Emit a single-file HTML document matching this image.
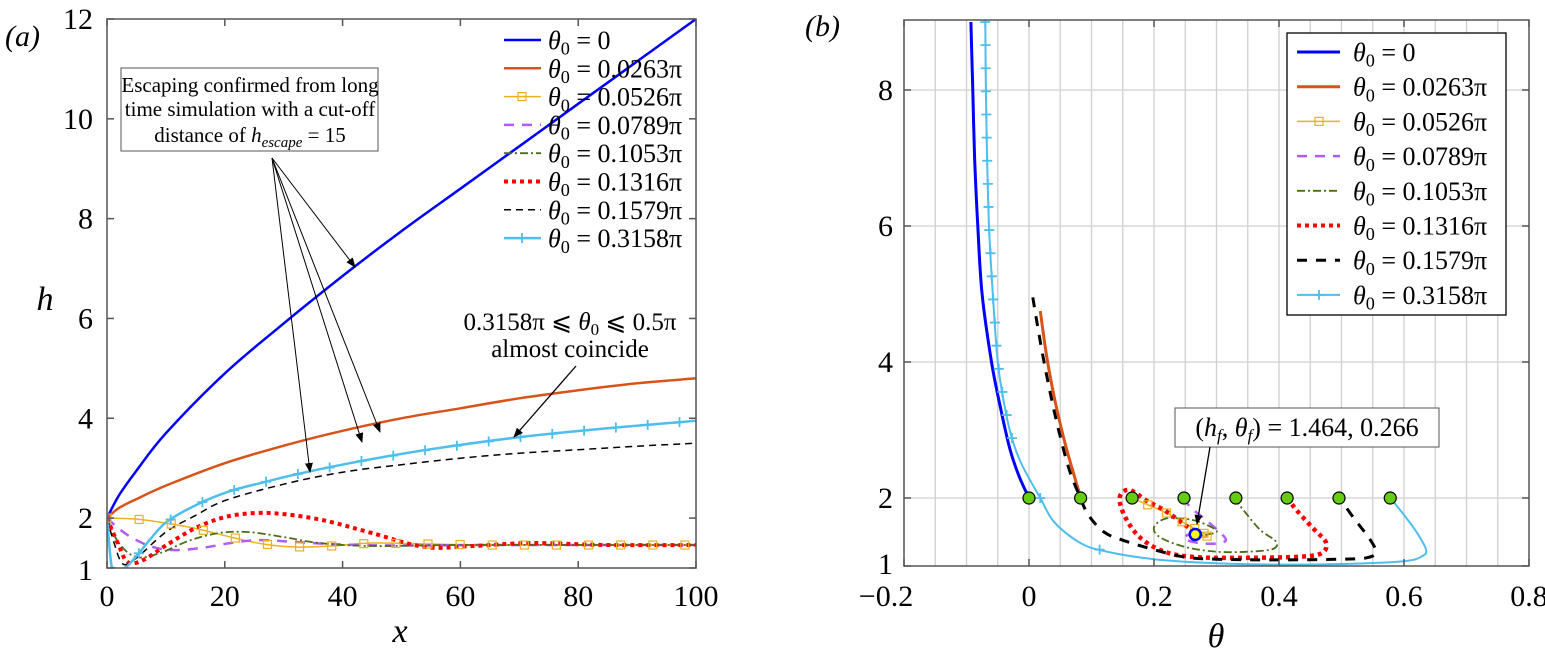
<!DOCTYPE html>
<html><head><meta charset="utf-8"><style>
html,body{margin:0;padding:0;background:#fff;}
svg, svg text, svg tspan{font-family:"Liberation Serif","DejaVu Serif",serif;}
</style></head><body>
<svg id="fig" width="1545" height="665" viewBox="0 0 1545 665" xmlns="http://www.w3.org/2000/svg" font-family="Liberation Serif, serif">
<defs>
<clipPath id="clipA"><rect x="107" y="19" width="589" height="549"/></clipPath>
<clipPath id="clipB"><rect x="904" y="20" width="625" height="546"/></clipPath>
<marker id="arr" markerWidth="10" markerHeight="10" refX="9" refY="5" orient="auto" markerUnits="userSpaceOnUse"><path d="M0,1 L10,5 L0,9 z" fill="#000"/></marker>
</defs>
<g id="panelA"></g>
<g id="panelB"></g>
</svg>
<script>
// ---------- Panel (a) data: x vs h ----------
const aBlueX = [0,2,5,10,20,30,40,50,60,70,80,90,100];
const aBlueH = [2,2.45,2.95,3.7,4.9,5.9,6.85,7.75,8.6,9.45,10.3,11.15,12.0];
const aOrangeX = [0,2,5,10,20,30,40,50,60,70,80,90,100];
const aOrangeH = [2,2.2,2.38,2.65,3.1,3.45,3.75,4.0,4.2,4.4,4.56,4.7,4.8];
const aYellowX = [0,5,10,15.5,21,26.5,32,38,45,55,65,80,100];
const aYellowH = [2,1.98,1.9,1.78,1.62,1.48,1.42,1.44,1.5,1.48,1.46,1.46,1.46];
const aPurpleX = [0,3,7,11,16,21,26,32,40,50,65,100];
const aPurpleH = [2,1.7,1.45,1.36,1.4,1.5,1.56,1.52,1.47,1.45,1.46,1.46];
const aGreenX = [0,2,5,9,14,19,24,30,36,45,60,100];
const aGreenH = [2,1.5,1.22,1.3,1.55,1.7,1.72,1.62,1.5,1.44,1.46,1.46];
const aRedX = [0,2,3.5,6,10,15,20,25,30,37,45,54,62,72,85,100];
const aRedH = [2,1.45,1.12,1.15,1.45,1.8,2.02,2.1,2.08,1.95,1.7,1.42,1.44,1.5,1.46,1.46];
const aBlackX = [0,1.2,2.7,5,10,15,20,30,40,50,60,70,80,90,100];
const aBlackH = [2,1.5,1.08,1.2,1.72,2.05,2.35,2.68,2.92,3.07,3.2,3.3,3.37,3.44,3.5];
const aCyanX = [0,0.7,1.2,3,5.3,7.5,10.3,15.8,20.9,26,33,43,55,70,85,100];
const aCyanH = [2,1.1,1.0,1.0,1.28,1.6,1.94,2.3,2.54,2.7,2.9,3.14,3.38,3.62,3.8,3.95];
const aXTicks = [0,20,40,60,80,100];
const aYTicks = [1,2,4,6,8,10,12];

// ---------- Panel (b) data: theta vs h ----------
const bBlueT = [0,-0.015,-0.03,-0.045,-0.06,-0.075,-0.082,-0.087,-0.09,-0.093];
const bBlueH = [2,2.3,2.7,3.3,4,5,6,7,8,9];
const bOrangeT = [0.083,0.07,0.055,0.04,0.028,0.018];
const bOrangeH = [2,2.4,2.9,3.5,4.1,4.75];
const bYellowT = [0.165,0.19,0.22,0.245,0.265,0.28,0.285,0.27,0.266];
const bYellowH = [2,1.9,1.78,1.65,1.55,1.48,1.44,1.45,1.464];
const bPurpleT = [0.246,0.26,0.28,0.305,0.315,0.3,0.27,0.248,0.255,0.266];
const bPurpleH = [2,1.85,1.7,1.5,1.38,1.33,1.34,1.4,1.46,1.464];
const bGreenT = [0.328,0.345,0.37,0.395,0.39,0.35,0.3,0.25,0.21,0.2,0.22,0.26,0.29,0.3,0.275,0.266];
const bGreenH = [2,1.8,1.53,1.36,1.25,1.21,1.21,1.28,1.42,1.57,1.7,1.68,1.58,1.5,1.45,1.464];
const bRedT = [0.413,0.43,0.455,0.475,0.47,0.44,0.35,0.27,0.22,0.18,0.155,0.145,0.16,0.19,0.22,0.25,0.27,0.266];
const bRedH = [2,1.8,1.55,1.35,1.2,1.14,1.12,1.13,1.2,1.4,1.7,2.0,2.12,1.95,1.8,1.6,1.47,1.464];
const bBlackT = [0.006,0.02,0.035,0.05,0.065,0.08,0.095,0.12,0.15,0.2,0.25,0.3,0.4,0.5,0.54,0.555,0.545,0.52,0.497];
const bBlackH = [4.95,4.2,3.5,2.9,2.4,2.05,1.75,1.5,1.38,1.24,1.13,1.1,1.09,1.1,1.12,1.2,1.4,1.7,2];
const bCyanT = [-0.07,-0.069,-0.067,-0.064,-0.058,-0.05,-0.04,-0.028,-0.012,0.018,0.04,0.08,0.12,0.2,0.3,0.4,0.5,0.6,0.63,0.635,0.62,0.6,0.578];
const bCyanH = [9,8,7,6,5,4,3.4,2.9,2.5,2,1.65,1.35,1.22,1.1,1.04,1.02,1.03,1.07,1.15,1.25,1.5,1.75,2];
const bStartT = [0,0.0826,0.165,0.248,0.331,0.413,0.496,0.578];
const bStartH = [2,2,2,2,2,2,2,2];
const bFinalT = [0.266];
const bFinalH = [1.464];
const bXTicks = [-0.2,0,0.2,0.4,0.6,0.8];
const bXTickLabels = ["\u22120.2","0","0.2","0.4","0.6","0.8"];
const bYTicks = [1,2,4,6,8];
const legendLabels = ["0","0.0263\u03c0","0.0526\u03c0","0.0789\u03c0","0.1053\u03c0","0.1316\u03c0","0.1579\u03c0","0.3158\u03c0"];

const NS = "http://www.w3.org/2000/svg";
function mk(tag, attrs, parent){ const e=document.createElementNS(NS,tag); for(const k in attrs) e.setAttribute(k,attrs[k]); if(tag==='text') e.setAttribute('font-family','Liberation Serif, serif'); if(parent) parent.appendChild(e); return e; }

const aX = v => 107 + v*(696-107)/100;
const aY = v => 568 - (v-1)*(568-19)/11;
const bX = v => 904 + (v+0.2)*(1529-904)/1.0;
const bY = v => 566 - (v-1)*68;

function smoothPath(xs, ys, fx, fy){
  const p = xs.map((x,i)=>[fx(x), fy(ys[i])]);
  let d = "M"+p[0][0].toFixed(1)+","+p[0][1].toFixed(1);
  for(let i=0;i<p.length-1;i++){
    const p0=p[Math.max(0,i-1)], p1=p[i], p2=p[i+1], p3=p[Math.min(p.length-1,i+2)];
    const c1=[p1[0]+(p2[0]-p0[0])/6, p1[1]+(p2[1]-p0[1])/6];
    const c2=[p2[0]-(p3[0]-p1[0])/6, p2[1]-(p3[1]-p1[1])/6];
    d += " C"+c1[0].toFixed(1)+","+c1[1].toFixed(1)+" "+c2[0].toFixed(1)+","+c2[1].toFixed(1)+" "+p2[0].toFixed(1)+","+p2[1].toFixed(1);
  }
  return d;
}
function interp(xs, ys, x){
  for(let i=0;i<xs.length-1;i++){ if(x>=xs[i] && x<=xs[i+1]){ const t=(x-xs[i])/(xs[i+1]-xs[i]||1); return ys[i]+t*(ys[i+1]-ys[i]); } }
  return ys[ys.length-1];
}
function sq(g,x,y,col){ const r=mk('rect',{x:x-4,y:y-4,width:8,height:8,fill:'none',stroke:col,'stroke-width':1.2},g);   }
function plus(g,x,y,col,s){ const p=mk('path',{d:`M${x-s},${y}H${x+s}M${x},${y-s}V${y+s}`,stroke:col,'stroke-width':1.8},g);   }

const styles = [
  {c:'#0000ff', w:2.5, dash:''},
  {c:'#d95319', w:2.5, dash:''},
  {c:'#edb120', w:1.5, dash:''},
  {c:'#b35cf5', w:2.5, dash:'10,8'},
  {c:'#4b6e16', w:1.8, dash:'8,3,2,3'},
  {c:'#ff0000', w:4, dash:'4,4'},
  {c:'#000000', w:1.5, dash:'7,5'},
  {c:'#4dbeee', w:2.5, dash:''}
];
const names = ['theta0-0','theta0-0263pi','theta0-0526pi','theta0-0789pi','theta0-1053pi','theta0-1316pi','theta0-1579pi','theta0-3158pi'];

function thetaText(parent, x, y, val, size){
  const t = mk('text',{x:x,y:y,'font-size':size,fill:'#000'},parent);
  const a = mk('tspan',{'font-style':'italic'},t); a.textContent='\u03b8';
  const b = mk('tspan',{'font-size':size*0.7,dy:size*0.22},t); b.textContent='0';
  const c = mk('tspan',{dy:-size*0.22},t); c.textContent=' = '+val;
  return t;
}

// ================= PANEL A =================
const A = document.getElementById('panelA');
{
  const lbl = mk('text',{x:5,y:46,'font-size':30,'font-style':'italic'},A); lbl.textContent='(a)';
   
  const plot = mk('g',{'clip-path':'url(#clipA)'},A);
   
  const series = [[aBlueX,aBlueH],[aOrangeX,aOrangeH],[aYellowX,aYellowH],[aPurpleX,aPurpleH],[aGreenX,aGreenH],[aRedX,aRedH],[aBlackX,aBlackH],[aCyanX,aCyanH]];
  series.forEach((s,i)=>{
    const st = styles[i];
    const p = mk('path',{d:smoothPath(s[0],s[1],aX,aY),fill:'none',stroke:st.c,'stroke-width':st.w,'stroke-dasharray':st.dash,'stroke-linejoin':'round'},plot);
    
    
  });
  for(let x=0;x<=100.01;x+=5.45){ sq(plot,aX(x),aY(interp(aYellowX,aYellowH,x)),'#edb120'); }
  for(let x=0;x<=100.01;x+=5.4){ plus(plot,aX(x),aY(interp(aCyanX,aCyanH,x)),'#4dbeee',5); }
  const box = mk('rect',{x:107,y:19,width:589,height:549,fill:'none',stroke:'#555','stroke-width':1.5},A);
   
  aXTicks.forEach(v=>{
    mk('line',{x1:aX(v),x2:aX(v),y1:568,y2:561,stroke:'#555','stroke-width':1.5},A);
    mk('line',{x1:aX(v),x2:aX(v),y1:19,y2:26,stroke:'#555','stroke-width':1.5},A);
    const t=mk('text',{x:aX(v),y:606,'font-size':30,'text-anchor':'middle'},A); t.textContent=v;
     
  });
  aYTicks.forEach(v=>{
    mk('line',{x1:107,x2:114,y1:aY(v),y2:aY(v),stroke:'#555','stroke-width':1.5},A);
    mk('line',{x1:696,x2:689,y1:aY(v),y2:aY(v),stroke:'#555','stroke-width':1.5},A);
    const t=mk('text',{x:93,y:aY(v)+(v===1?12:10),'font-size':30,'text-anchor':'end'},A); t.textContent=v;
     
  });
  const xl=mk('text',{x:400,y:642,'font-size':34,'font-style':'italic','text-anchor':'middle'},A); xl.textContent='x';
   
  const yl=mk('text',{x:45,y:310,'font-size':34,'font-style':'italic','text-anchor':'middle'},A); yl.textContent='h';
   
  const lg = mk('g',{},A);  
  styles.forEach((st,i)=>{
    const y = 40 + i*28.3;
    const e = mk('g',{},lg);  
    mk('line',{x1:504,x2:541,y1:y,y2:y,stroke:st.c,'stroke-width':st.w,'stroke-dasharray':st.dash},e);
    if(i===2) sq(e,522,y,st.c);
    if(i===7) plus(e,522,y,st.c,5);
    thetaText(e,548,y+9,legendLabels[i],26);
  });
  const an = mk('g',{},A);  
  mk('rect',{x:121,y:68,width:257,height:83,fill:'#fff',stroke:'#555','stroke-width':1},an);
  const l1=mk('text',{x:250,y:92,'font-size':21,'text-anchor':'middle'},an); l1.textContent='Escaping confirmed from long';
  const l2=mk('text',{x:250,y:116,'font-size':21,'text-anchor':'middle'},an); l2.textContent='time simulation with a cut-off';
  const l3=mk('text',{x:250,y:142,'font-size':21,'text-anchor':'middle'},an);
  const s1=mk('tspan',{},l3); s1.textContent='distance of ';
  const s2=mk('tspan',{'font-style':'italic'},l3); s2.textContent='h';
  const s3=mk('tspan',{'font-style':'italic','font-size':15,dy:5},l3); s3.textContent='escape';
  const s4=mk('tspan',{dy:-5},l3); s4.textContent=' = 15';
  [[355,267],[380,432],[362,442],[310,472]].forEach(p=>{
    mk('line',{x1:272,y1:158,x2:p[0],y2:p[1],stroke:'#000','stroke-width':1,'marker-end':'url(#arr)'},an);
  });
  const an2 = mk('g',{},A);  
  const c1=mk('text',{x:570,y:330,'font-size':25,'text-anchor':'middle'},an2); c1.textContent='0.3158\u03c0 \u2a7d ';
  const c1b=mk('tspan',{'font-style':'italic'},c1); c1b.textContent='\u03b8';
  const c1c=mk('tspan',{'font-size':17,dy:5},c1); c1c.textContent='0';
  const c1d=mk('tspan',{dy:-5},c1); c1d.textContent=' \u2a7d 0.5\u03c0';
  const c2=mk('text',{x:570,y:357,'font-size':25,'text-anchor':'middle'},an2); c2.textContent='almost coincide';
  mk('line',{x1:576,y1:366,x2:514,y2:437,stroke:'#000','stroke-width':1.3,'marker-end':'url(#arr)'},an2);
}

// ================= PANEL B =================
const B = document.getElementById('panelB');
{
  const lbl = mk('text',{x:805,y:36,'font-size':30,'font-style':'italic'},B); lbl.textContent='(b)';
   
  const grid = mk('g',{stroke:'#d0d0d0','stroke-width':1.3},B);
   
  for(let i=1;i<20;i++){ const v=-0.2+i*0.05; mk('line',{x1:bX(v),x2:bX(v),y1:20,y2:566},grid); }
  [2,4,6,8].forEach(v=>mk('line',{x1:904,x2:1529,y1:bY(v),y2:bY(v)},grid));
  const plot = mk('g',{'clip-path':'url(#clipB)'},B);
   
  const series = [[bBlueT,bBlueH],[bOrangeT,bOrangeH],[bYellowT,bYellowH],[bPurpleT,bPurpleH],[bGreenT,bGreenH],[bRedT,bRedH],[bBlackT,bBlackH],[bCyanT,bCyanH]];
  const bw=[3,3,1.5,2.5,1.8,4.5,3,2];
  const bd=['','','','10,8','8,3,2,3','4,4','10,9',''];
  series.forEach((s,i)=>{
    const p = mk('path',{d:smoothPath(s[0],s[1],bX,bY),fill:'none',stroke:styles[i].c,'stroke-width':bw[i],'stroke-dasharray':bd[i],'stroke-linejoin':'round'},plot);
    
    
  });
  for(let k=0;k<bYellowT.length-2;k++) sq(plot,bX(bYellowT[k]),bY(bYellowH[k]),'#edb120');
  const negH = bCyanH.slice(0,10).map(v=>-v), topT = bCyanT.slice(0,10);
  for(let h=9;h>=2.6;h-=0.34){ plus(plot,bX(interp(negH,topT,-h)),bY(h),'#4dbeee',5); }
  plus(plot,bX(0.018),bY(2),'#4dbeee',5);
  plus(plot,bX(0.113),bY(1.24),'#4dbeee',5);
  bStartT.forEach((t,i)=>{
    const c=mk('circle',{cx:bX(t),cy:bY(bStartH[i]),r:6,fill:'#66cc11',stroke:'#000','stroke-width':1.2},plot);
     
  });
  bFinalT.forEach((t,i)=>{
    const c=mk('circle',{cx:bX(t),cy:bY(bFinalH[i]),r:5.5,fill:'#ffff00',stroke:'#0000ff','stroke-width':2.5},plot);
     
  });
  const box = mk('rect',{x:904,y:20,width:625,height:546,fill:'none',stroke:'#555','stroke-width':1.5},B);
   
  bXTicks.forEach((v,i)=>{
    mk('line',{x1:bX(v),x2:bX(v),y1:566,y2:559,stroke:'#555','stroke-width':1.5},B);
    mk('line',{x1:bX(v),x2:bX(v),y1:20,y2:27,stroke:'#555','stroke-width':1.5},B);
    const t=mk('text',{x:bX(v)+(i===0?-18:0),y:606,'font-size':30,'text-anchor':'middle'},B); t.textContent=bXTickLabels[i];
     
  });
  bYTicks.forEach(v=>{
    mk('line',{x1:904,x2:911,y1:bY(v),y2:bY(v),stroke:'#555','stroke-width':1.5},B);
    mk('line',{x1:1529,x2:1522,y1:bY(v),y2:bY(v),stroke:'#555','stroke-width':1.5},B);
    const t=mk('text',{x:893,y:bY(v)+(v===1?8:10),'font-size':30,'text-anchor':'end'},B); t.textContent=v;
     
  });
  const xl=mk('text',{x:1216,y:647,'font-size':34,'font-style':'italic','text-anchor':'middle'},B); xl.textContent='\u03b8';
   
  const lg = mk('g',{},B);  
  mk('rect',{x:1287,y:33,width:219,height:282,fill:'#fff',stroke:'#000','stroke-width':1.3},lg);
  styles.forEach((st,i)=>{
    const y = 52 + i*34.7;
    const e = mk('g',{},lg);  
    mk('line',{x1:1297,x2:1340,y1:y,y2:y,stroke:st.c,'stroke-width':bw[i]>3?4:bw[i],'stroke-dasharray':bd[i]},e);
    if(i===2) sq(e,1319,y,st.c);
    if(i===7) plus(e,1319,y,st.c,5);
    thetaText(e,1353,y+9,legendLabels[i],26);
  });
  const an = mk('g',{},B);  
  mk('rect',{x:1175,y:408,width:264,height:39,fill:'#fff',stroke:'#555','stroke-width':1},an);
  const t=mk('text',{x:1307,y:436,'font-size':26,'text-anchor':'middle'},an);
  const p1=mk('tspan',{},t); p1.textContent='(';
  const p2=mk('tspan',{'font-style':'italic'},t); p2.textContent='h';
  const p3=mk('tspan',{'font-style':'italic','font-size':17,dy:5},t); p3.textContent='f';
  const p4=mk('tspan',{dy:-5},t); p4.textContent=', ';
  const p5=mk('tspan',{'font-style':'italic'},t); p5.textContent='\u03b8';
  const p6=mk('tspan',{'font-style':'italic','font-size':17,dy:5},t); p6.textContent='f';
  const p7=mk('tspan',{dy:-5},t); p7.textContent=') = 1.464, 0.266';
  mk('line',{x1:1210,y1:447,x2:1197,y2:524,stroke:'#000','stroke-width':1.3,'marker-end':'url(#arr)'},an);
}
</script>
</body></html>
